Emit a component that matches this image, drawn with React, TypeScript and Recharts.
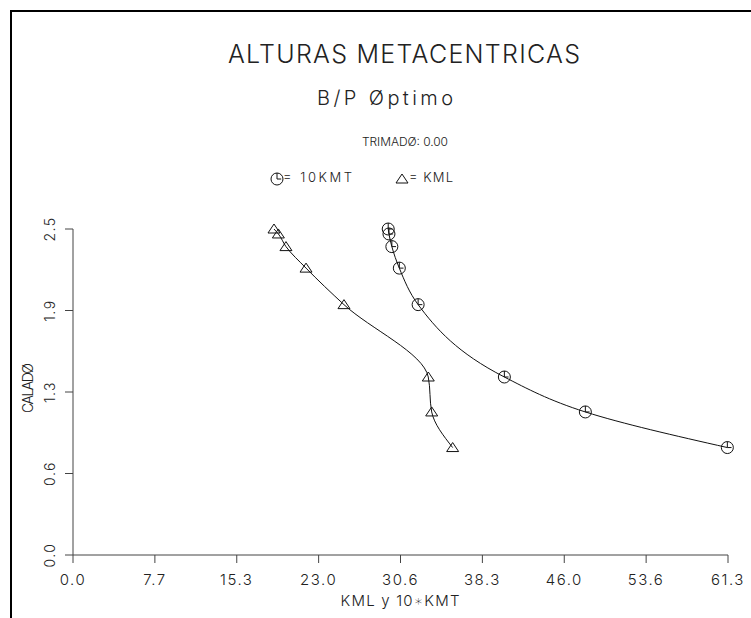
import React from 'react';
import { ScatterChart, Scatter, XAxis, YAxis } from 'recharts';

// Draft (CALADO) values shared by both series
const calado = [2.5, 2.462, 2.365, 2.2, 1.92, 1.365, 1.097, 0.824];
// 10 * KMT values
const kmt10 = [29.5, 29.57, 29.84, 30.54, 32.3, 40.37, 47.95, 61.24];
// KML values
const kml = [18.81, 19.22, 19.93, 21.81, 25.36, 33.25, 33.57, 35.53];

const xTicks = [0, 7.6625, 15.325, 22.9875, 30.65, 38.3125, 45.975, 53.6375, 61.3];
const xTickLabels = ['0.0', '7.7', '15.3', '23.0', '30.6', '38.3', '46.0', '53.6', '61.3'];
const yTicks = [0, 0.625, 1.25, 1.875, 2.5];
const yTickLabels = ['0.0', '0.6', '1.3', '1.9', '2.5'];

const kmtData = kmt10.map((x, i) => ({ x, y: calado[i] }));
const kmlData = kml.map((x, i) => ({ x, y: calado[i] }));

const FONT = 'Inter, "DejaVu Sans", sans-serif';
const TXT = '#222';

const nearestIdx = (arr: number[], v: number) => {
  let best = 0;
  for (let i = 1; i < arr.length; i++) if (Math.abs(arr[i] - v) < Math.abs(arr[best] - v)) best = i;
  return best;
};

const XTick = (props: any) => {
  const { x, y, payload } = props;
  const lbl = xTickLabels[nearestIdx(xTicks, payload.value)];
  return (
    <text x={x} y={y + 20} textAnchor="middle" fontFamily={FONT} fontWeight={300} fontSize={15} fill={TXT} letterSpacing={1.5}>
      {lbl}
    </text>
  );
};

const YTick = (props: any) => {
  const { x, y, payload } = props;
  const lbl = yTickLabels[nearestIdx(yTicks, payload.value)];
  const bx = x - 8;
  return (
    <text x={bx} y={y} transform={`rotate(-90, ${bx}, ${y})`} textAnchor="middle" fontFamily={FONT} fontWeight={300} fontSize={14} fill={TXT} letterSpacing={1.5}>
      {lbl}
    </text>
  );
};

const CircleMark = (props: any) => {
  const { cx, cy } = props;
  if (cx == null || cy == null) return null;
  const r = 6;
  return (
    <g>
      <circle cx={cx} cy={cy} r={r} fill="none" stroke="#111" strokeWidth={1} />
      <path d={`M${cx},${cy - r} L${cx},${cy} L${cx + r * 0.7},${cy}`} fill="none" stroke="#111" strokeWidth={1} />
    </g>
  );
};

const TriMark = (props: any) => {
  const { cx, cy } = props;
  if (cx == null || cy == null) return null;
  return (
    <path d={`M${cx},${cy - 5} L${cx + 6},${cy + 4} L${cx - 6},${cy + 4} Z`} fill="none" stroke="#111" strokeWidth={1} />
  );
};

export default function App() {
  return (
    <div style={{ position: 'absolute', left: 0, top: 0, width: 751, height: 618, background: '#fff' }}>
      <ScatterChart width={751} height={618} margin={{ top: 229, right: 23, bottom: 23, left: 33 }}>
        <XAxis
          type="number"
          dataKey="x"
          domain={[0, 61.3]}
          ticks={xTicks}
          interval={0}
          height={40}
          tickSize={8}
          axisLine={{ stroke: '#444' }}
          tickLine={{ stroke: '#444' }}
          tick={<XTick />}
        />
        <YAxis
          type="number"
          dataKey="y"
          domain={[0, 2.5]}
          ticks={yTicks}
          interval={0}
          width={40}
          tickSize={8}
          axisLine={{ stroke: '#444' }}
          tickLine={{ stroke: '#444' }}
          tick={<YTick />}
        />
        <Scatter
          name="10KMT"
          data={kmtData}
          line={{ stroke: '#111', strokeWidth: 1 }}
          lineJointType="monotoneY"
          shape={<CircleMark />}
          isAnimationActive={false}
        />
        <Scatter
          name="KML"
          data={kmlData}
          line={{ stroke: '#111', strokeWidth: 1 }}
          lineJointType="monotoneY"
          shape={<TriMark />}
          isAnimationActive={false}
        />
      </ScatterChart>
      <svg width={751} height={618} style={{ position: 'absolute', left: 0, top: 0, pointerEvents: 'none' }}>
        <path d="M11,618 L11,11 L751,11" fill="none" stroke="#000" strokeWidth={2} />
        <text x={404} y={63} textAnchor="middle" fontFamily={FONT} fontWeight={300} fontSize={25} fill={TXT} textLength={352} lengthAdjust="spacing">
          ALTURAS METACENTRICAS
        </text>
        <text x={385} y={105} textAnchor="middle" fontFamily={FONT} fontWeight={300} fontSize={20} fill={TXT} textLength={136} lengthAdjust="spacing">
          B/P Øptimo
        </text>
        <text x={405} y={146} textAnchor="middle" fontFamily={FONT} fontWeight={300} fontSize={12} fill={TXT} textLength={86} lengthAdjust="spacing">
          TRIMADØ: 0.00
        </text>
        {/* legend */}
        <CircleMark cx={277} cy={179} />
        <text x={283} y={182} fontFamily={FONT} fontWeight={300} fontSize={13} fill={TXT} textLength={69} lengthAdjust="spacing">
          = 10KMT
        </text>
        <TriMark cx={402} cy={179} />
        <text x={409} y={182} fontFamily={FONT} fontWeight={300} fontSize={13} fill={TXT} textLength={44} lengthAdjust="spacing">
          = KML
        </text>
        {/* axis titles */}
        <text x={33} y={388} transform="rotate(-90, 33, 388)" textAnchor="middle" fontFamily={FONT} fontWeight={300} fontSize={14} fill={TXT} textLength={50} lengthAdjust="spacing">
          CALADØ
        </text>
        <text x={400} y={606} textAnchor="middle" fontFamily={FONT} fontWeight={300} fontSize={15} fill={TXT} textLength={119} lengthAdjust="spacing">
          KML y 10∗KMT
        </text>
      </svg>
    </div>
  );
}
